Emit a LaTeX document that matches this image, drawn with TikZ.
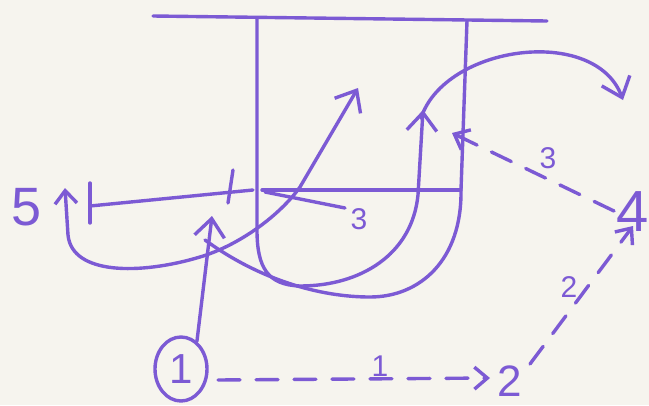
\documentclass[tikz,border=0pt]{standalone}
\usepackage{fontspec}
\setmainfont{Liberation Sans}
\usetikzlibrary{arrows.meta,shapes.geometric}
\definecolor{ink}{RGB}{124,90,212}
\definecolor{paper}{RGB}{246,244,238}
\begin{document}
\begin{tikzpicture}[x=1pt,y=-1pt,
  inkline/.style={draw=ink,line width=3.4pt,line cap=round,line join=round},
  bigtip/.style={-{Straight Barb[length=18pt,width=30pt]}},
  cut/.style={inkline,bigtip},
  pass/.style={inkline,dash pattern=on 22pt off 16pt,-{Straight Barb[length=13pt,width=22pt]}},
  lbl/.style={text=ink,inner sep=0pt,font=\fontsize{30}{30}\selectfont},
  player/.style={text=ink,inner sep=0pt,font=\fontsize{54}{54}\selectfont}]
\useasboundingbox[fill=paper] (0,0) rectangle (649,405);

% court
\coordinate (bl) at (153,16);
\coordinate (br) at (547,21);
\coordinate (llTop) at (257,19);
\coordinate (rlTop) at (467,21);
\coordinate (ftL) at (262,190);
\coordinate (ftR) at (461,190);
\draw[inkline] (bl) -- (br);
\draw[inkline] (ftL) -- (ftR);

% left lane line turning into the cut up the lane
\coordinate (innerTip) at (423,110);
\draw[cut] (llTop) -- (257,230) .. controls (257,268) and (268,285) .. (300,286)
  .. controls (360,286) and (412,255) .. (418,195) -- (innerTip);

% right lane line and outer curve
\coordinate (outerEnd) at (205,240);
\draw[inkline] (rlTop) -- (ftR) .. controls (462,260) and (420,297) .. (370,297)
  .. controls (320,297) and (260,280) .. (outerEnd);

% big arc
\coordinate (arcStart) at (421,118);
\coordinate (arcTip) at (623,100);
\draw[cut] (arcStart) .. controls (445,45) and (595,25) .. (arcTip);

% player 5 and its curve
\node[player] (p5) at (27,207) {5};
\coordinate (p5tip) at (65,188);
\coordinate (diagTip) at (358,88);
\draw[inkline,{Straight Barb[length=13pt,width=22pt]}-{Straight Barb[length=18pt,width=30pt]}]
  (p5tip) -- (68,235) .. controls (72,275) and (140,275) .. (200,257)
  .. controls (240,245) and (280,215) .. (300,187) -- (diagTip);

% screen line with ticks
\coordinate (scrL) at (90,206);
\coordinate (scrR) at (253,190);
\draw[inkline] (scrL) -- (scrR);
\coordinate (t1a) at (90,183); \coordinate (t1b) at (90,223);
\draw[inkline] (t1a) -- (t1b);
\coordinate (t2a) at (233,170); \coordinate (t2b) at (228,203);
\draw[inkline] (t2a) -- (t2b);

% line to 3
\coordinate (s3start) at (265,192);
\coordinate (s3end) at (345,208);
\draw[inkline] (s3start) -- (s3end);
\node[lbl] (s3) at (359,219) {3};

% player 1
\node[draw=ink,line width=3.4pt,ellipse,minimum width=52pt,minimum height=64pt,
  text=ink,inner sep=0pt,font=\fontsize{42}{42}\selectfont] (p1) at (181,369) {1};
\coordinate (p1tip) at (212,216);
\draw[cut] (p1.60) -- (p1tip);

% player 2 and 4
\node[text=ink,inner sep=0pt,font=\fontsize{44}{44}\selectfont] (p2) at (510,381) {2};
\node[text=ink,inner sep=0pt,font=\fontsize{58}{58}\selectfont] (p4) at (633,212) {4};

% passes
\coordinate (pa1s) at (218,380);
\coordinate (pa1e) at (490,378);
\draw[pass] (pa1s) -- (pa1e);
\node[lbl] (l1) at (380,366) {1};

\coordinate (pa2s) at (530,364);
\coordinate (pa2e) at (633,226);
\draw[pass] (pa2s) -- (pa2e);
\node[lbl] (l2) at (569,287) {2};

\coordinate (pa3s) at (614,211);
\coordinate (pa3e) at (452,133);
\draw[pass] (pa3s) -- (pa3e);
\node[lbl] (l3) at (548,158) {3};
\end{tikzpicture}
\end{document}
